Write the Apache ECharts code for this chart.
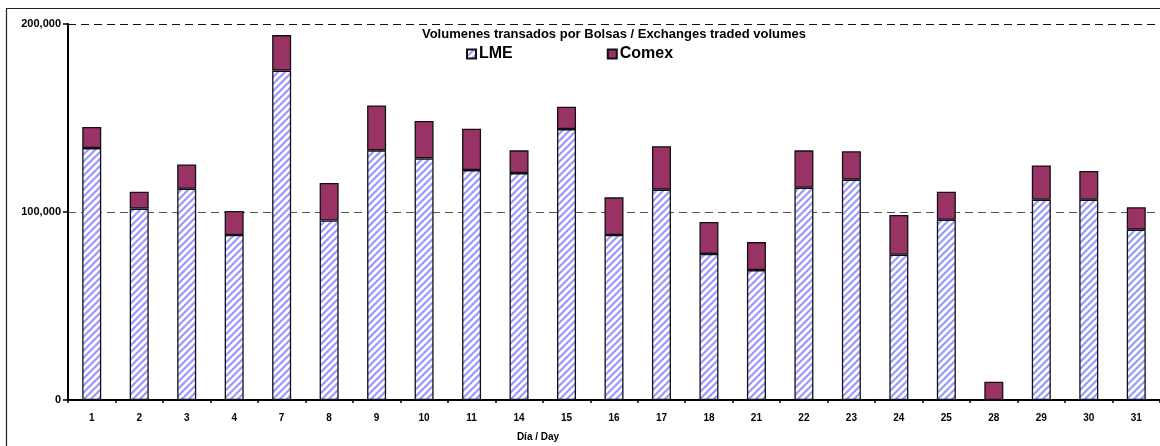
<!DOCTYPE html>
<html>
<head>
<meta charset="utf-8">
<script src="https://cdn.jsdelivr.net/npm/echarts@6/dist/echarts.min.js"></script>
<style>
html,body{margin:0;padding:0;background:#fff;}
#chart{width:1160px;height:446px;}
</style>
</head>
<body>
<div id="chart"></div>
<script>
const categories = ['1','2','3','4','7','8','9','10','11','14','15','16','17','18','21','22','23','24','25','28','29','30','31'];
const lmeValues = [134000,101800,112400,87800,175200,95500,132800,128500,122300,120700,144100,87800,111900,77700,69100,112900,117200,77300,95900,0,106500,106500,90600];
const comexValues = [11200,9000,12900,12700,18900,19900,23900,19900,22000,12100,11900,20000,23100,17000,14900,19900,15100,21100,14900,9700,18300,15300,11900];
const yTicks = [0,100000,200000];

const FONT = 'Arial, "Liberation Sans", sans-serif';

function makeHatch(){
  const s = 7;
  const c = document.createElement('canvas');
  c.width = s; c.height = s;
  const ctx = c.getContext('2d');
  ctx.fillStyle = '#ffffff';
  ctx.fillRect(0,0,s,s);
  ctx.strokeStyle = '#9999ff';
  ctx.lineWidth = 2.2;
  ctx.beginPath();
  ctx.moveTo(0,s); ctx.lineTo(s,0);
  ctx.moveTo(-s,s); ctx.lineTo(s,-s);
  ctx.moveTo(0,2*s); ctx.lineTo(2*s,0);
  ctx.stroke();
  return c;
}

const chart = echarts.init(document.getElementById('chart'), null, {renderer:'canvas'});
chart.setOption({
  animation:false,
  backgroundColor:'#fff',
  grid:{left:68, top:24, width:1098, height:376, containLabel:false},
  legend:{
    data:['LME','Comex'],
    left:466, top:46, padding:0,
    itemWidth:9, itemHeight:9, itemGap:94,
    icon:'rect',
    textStyle:{fontFamily:FONT, fontWeight:'bold', fontSize:16, color:'#000', padding:[0,0,0,-2]}
  },
  graphic:[
    {type:'rect', shape:{x:6.5, y:8.5, width:1200, height:500}, style:{fill:null, stroke:'#222', lineWidth:1.2}, silent:true, z:-1},
    {type:'text', x:614, y:34, style:{text:'Volumenes transados por Bolsas / Exchanges traded volumes', font:'bold 13px '+FONT, fill:'#000', textAlign:'center', textVerticalAlign:'middle'}},
    {type:'text', x:538, y:437, style:{text:'Día / Day', font:'bold 10px '+FONT, fill:'#000', textAlign:'center', textVerticalAlign:'middle'}}
  ],
  xAxis:{
    type:'category',
    data:categories,
    axisLine:{lineStyle:{color:'#000', width:2}},
    axisTick:{show:true, length:3, lineStyle:{color:'#000', width:1.5}},
    axisLabel:{fontFamily:FONT, fontWeight:'bold', fontSize:10, color:'#000', margin:13}
  },
  yAxis:{
    type:'value',
    min:yTicks[0], max:yTicks[2], interval:yTicks[1]-yTicks[0],
    axisLine:{show:true, lineStyle:{color:'#000', width:2}},
    axisTick:{show:true, length:5, lineStyle:{color:'#000', width:1.5}},
    axisLabel:{fontFamily:FONT, fontWeight:'bold', fontSize:11, color:'#000', margin:7,
      formatter:v=>v.toLocaleString('en-US')},
    splitLine:{show:true, lineStyle:{color:['#555','#555','#111'], type:[8,5], width:1}}
  },
  series:[
    {name:'LME', type:'bar', stack:'t', data:lmeValues, barWidth:19,
      itemStyle:{color:{image:makeHatch(), repeat:'repeat'}, borderColor:'#111', borderWidth:1.3}},
    {name:'Comex', type:'bar', stack:'t', data:comexValues, barWidth:19,
      itemStyle:{color:'#993366', borderColor:'#111', borderWidth:1.3}}
  ]
});
</script>
</body>
</html>
